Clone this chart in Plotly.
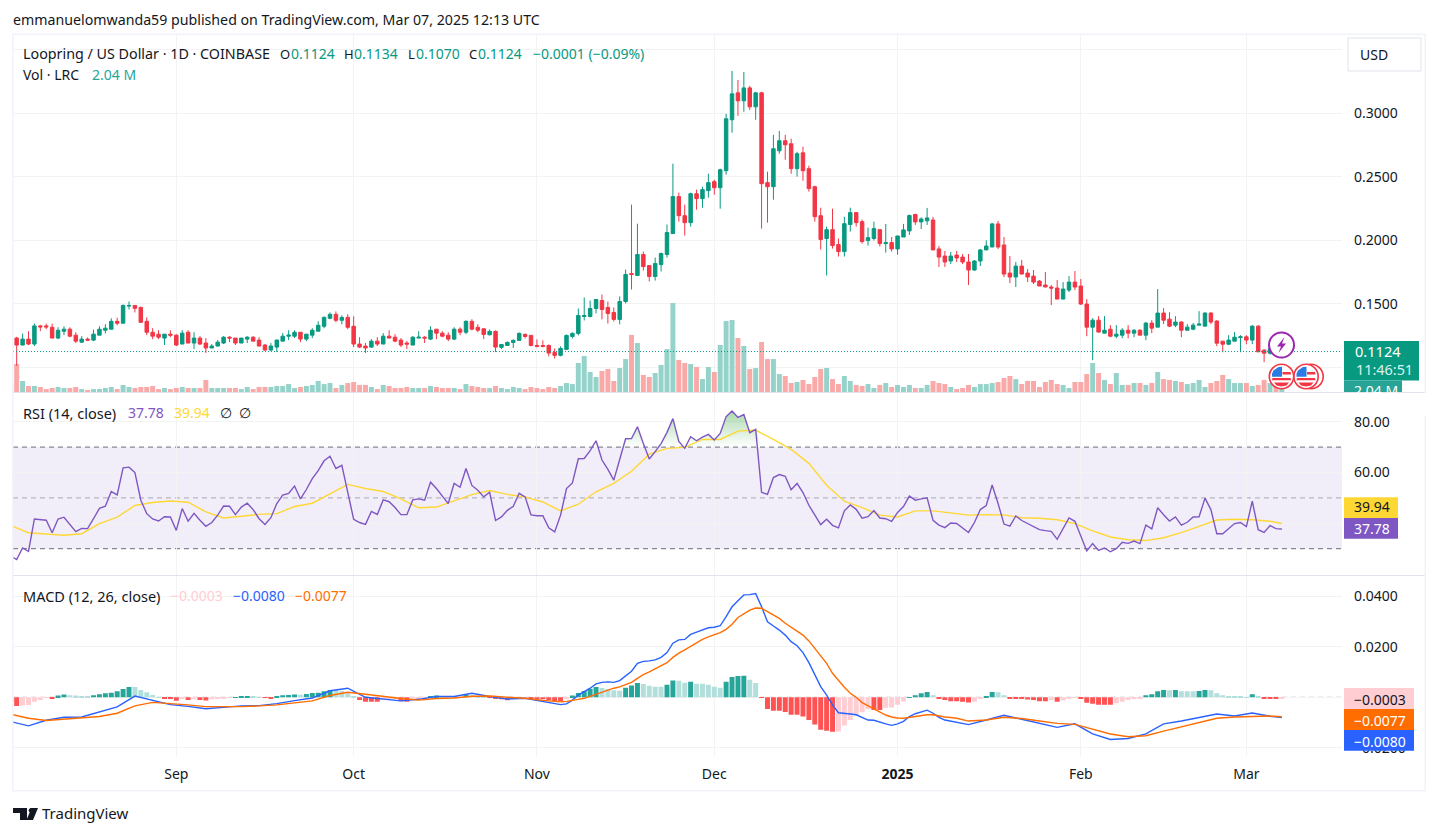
import pandas as pd
import plotly.graph_objects as go

W, H = 1438, 835
FONT = "Noto Sans"
UP, DOWN = "#089981", "#f23645"

start_date = "2024-08-04"
month_ticks = ["2024-09-01", "2024-10-01", "2024-11-01", "2024-12-01", "2025-01-01", "2025-02-01", "2025-03-01"]
month_labels = ["Sep", "Oct", "Nov", "Dec", "<b>2025</b>", "Feb", "Mar"]
price_ticks = [0.10, 0.15, 0.20, 0.25, 0.30, 0.35]
price_labels = ["", "0.1500", "0.2000", "0.2500", "0.3000", ""]
rsi_ticks = [80, 60, 40]
rsi_labels = ["80.00", "60.00", ""]
macd_ticks = [0.04, 0.02, 0.0, -0.02]
macd_labels = ["0.0400", "0.0200", "", "−0.0200"]

opens = [
 .1300,.1230,.1175,.1222,.1183,.1326,.1326,.1315,.1230,.1284,.1300,
 .1253,.1198,.1222,.1214,.1253,.1292,.1300,.1362,.1347,.1482,
 .1487,.1471,.1362,.1276,.1261,.1230,.1261,.1253,.1183,.1276,
 .1191,.1230,.1191,.1152,.1167,.1191,.1237,.1230,.1191,.1222,
 .1237,.1214,.1175,.1136,.1159,.1206,.1245,.1245,.1276,.1222,
 .1253,.1284,.1323,.1386,.1417,.1370,.1393,.1323,.1183,.1167,
 .1159,.1206,.1183,.1245,.1237,.1214,.1191,.1175,.1230,.1237,
 .1222,.1300,.1269,.1253,.1222,.1300,.1276,.1362,.1315,
 .1303,.1256,.1283,.1157,.1172,.1196,.1212,.1259,.1251,.1172,.1172,
 .1172,.1117,.1094,.1141,.1243,.1267,.1400,.1400,.1463,.1526,
 .1471,.1432,.1377,.1518,.1738,.1723,.1888,.1801,.1715,.1809,
 .1888,.2053,.2344,.2194,.2139,.2367,.2328,.2391,.2462,.2414,
 .2548,.2949,.3161,.3098,.3200,.3051,.3161,.2454,.2422,.2705,
 .2784,.2760,.2564,.2689,.2564,.2422,.2194,.2014,.2084,.1966,
 .1911,.2124,.2218,.2147,.1998,.2014,.2084,.1974,.1982,.1932,
 .2026,.2074,.2203,.2145,.2153,.2160,.1932,.1876,.1837,.1884,
 .1868,.1829,.1766,.1837,.1924,.1947,.2129,.1963,.1742,.1711,
 .1797,.1742,.1718,.1679,.1648,.1632,.1624,.1537,.1608,.1671,
 .1640,.1498,.1316,.1371,.1269,.1300,.1245,.1253,.1292,.1269,
 .1292,.1253,.1348,.1316,.1427,.1379,.1332,.1356,.1292,.1300,
 .1332,.1324,.1427,.1364,.1206,.1182,.1206,.1234,.1240,.1214,
 .1324,.1135,.1111,.1145,.1124]
highs = [
 .1320,.1240,.1266,.1284,.1344,.1334,.1344,.1344,.1315,.1323,.1315,
 .1276,.1245,.1235,.1297,.1323,.1339,.1386,.1391,.1495,.1518,
 .1487,.1479,.1393,.1308,.1292,.1261,.1292,.1261,.1292,.1292,
 .1276,.1245,.1230,.1183,.1214,.1245,.1245,.1230,.1230,.1245,
 .1245,.1237,.1183,.1191,.1219,.1269,.1292,.1292,.1276,.1261,
 .1308,.1362,.1401,.1432,.1440,.1409,.1417,.1401,.1237,.1191,
 .1222,.1237,.1269,.1292,.1261,.1230,.1206,.1245,.1284,.1245,
 .1323,.1300,.1284,.1276,.1315,.1315,.1370,.1378,.1339,
 .1309,.1298,.1290,.1180,.1204,.1220,.1275,.1267,.1251,.1220,.1212,
 .1180,.1149,.1165,.1259,.1275,.1463,.1550,.1526,.1534,.1573,
 .1518,.1471,.1558,.1770,.2281,.2131,.1911,.1801,.1864,.1903,
 .2124,.2603,.2375,.2281,.2375,.2399,.2422,.2524,.2477,.2564,
 .2996,.3334,.3263,.3326,.3216,.3169,.3169,.2540,.2831,.2862,
 .2831,.2800,.2697,.2737,.2587,.2430,.2257,.2108,.2249,.2014,
 .2186,.2257,.2218,.2163,.2100,.2147,.2084,.2129,.2026,.2034,
 .2129,.2203,.2210,.2181,.2255,.2184,.1955,.1916,.1908,.1916,
 .1892,.1892,.1845,.1932,.2000,.2137,.2153,.2026,.1876,.1829,
 .1845,.1774,.1766,.1687,.1750,.1648,.1687,.1671,.1718,.1758,
 .1695,.1537,.1387,.1403,.1403,.1332,.1332,.1308,.1332,.1300,
 .1300,.1356,.1371,.1616,.1466,.1434,.1403,.1364,.1340,.1348,
 .1442,.1434,.1434,.1371,.1206,.1253,.1277,.1253,.1253,.1332,
 .1332,.1143,.1150,.1160,.1134]
lows = [
 .1180,.1011,.1175,.1175,.1167,.1284,.1300,.1230,.1222,.1253,.1237,
 .1191,.1191,.1206,.1206,.1253,.1266,.1300,.1331,.1347,.1456,
 .1432,.1354,.1253,.1222,.1222,.1175,.1237,.1167,.1183,.1191,
 .1144,.1175,.1113,.1152,.1167,.1183,.1198,.1175,.1191,.1191,
 .1206,.1167,.1128,.1128,.1120,.1206,.1214,.1230,.1198,.1206,
 .1230,.1284,.1308,.1378,.1354,.1339,.1300,.1159,.1152,.1113,
 .1152,.1167,.1183,.1230,.1198,.1159,.1144,.1175,.1230,.1191,
 .1214,.1222,.1237,.1206,.1214,.1253,.1261,.1292,.1276,
 .1222,.1251,.1120,.1144,.1172,.1152,.1212,.1228,.1165,.1157,.1157,
 .1086,.1070,.1086,.1141,.1228,.1251,.1369,.1393,.1424,.1377,
 .1345,.1361,.1338,.1503,.1613,.1723,.1762,.1676,.1683,.1754,
 .1864,.2053,.2147,.2037,.2108,.2241,.2257,.2336,.2359,.2249,
 .2517,.2847,.2980,.3012,.3027,.2949,.2092,.2139,.2320,.2682,
 .2634,.2524,.2501,.2469,.2383,.2147,.1927,.1723,.1935,.1872,
 .1872,.2069,.2108,.1974,.1959,.1998,.1951,.1903,.1911,.1887,
 .2026,.2042,.2121,.2089,.2121,.1924,.1790,.1790,.1813,.1829,
 .1813,.1648,.1758,.1797,.1924,.1947,.1932,.1711,.1663,.1632,
 .1734,.1671,.1655,.1640,.1632,.1490,.1537,.1537,.1592,.1608,
 .1490,.1245,.1056,.1277,.1269,.1237,.1229,.1229,.1229,.1237,
 .1253,.1213,.1269,.1316,.1340,.1316,.1316,.1237,.1292,.1292,
 .1332,.1324,.1340,.1166,.1119,.1174,.1206,.1119,.1182,.1182,
 .1119,.1040,.1100,.1110,.1070]
closes = [
 .1230,.1175,.1222,.1183,.1326,.1318,.1318,.1230,.1292,.1300,.1245,
 .1206,.1222,.1214,.1261,.1300,.1308,.1362,.1347,.1487,.1487,
 .1464,.1354,.1276,.1245,.1237,.1261,.1253,.1175,.1269,.1191,
 .1230,.1183,.1152,.1167,.1198,.1237,.1230,.1191,.1230,.1237,
 .1206,.1167,.1136,.1167,.1214,.1245,.1253,.1276,.1222,.1261,
 .1292,.1331,.1393,.1417,.1370,.1393,.1315,.1183,.1159,.1152,
 .1206,.1183,.1245,.1230,.1206,.1175,.1183,.1237,.1237,.1230,
 .1292,.1269,.1245,.1222,.1300,.1276,.1362,.1300,.1292,
 .1259,.1283,.1159,.1180,.1196,.1212,.1267,.1243,.1172,.1165,.1165,
 .1112,.1094,.1149,.1251,.1267,.1408,.1408,.1463,.1534,.1455,
 .1424,.1377,.1518,.1731,.1731,.1888,.1793,.1715,.1817,.1896,
 .2061,.2344,.2194,.2139,.2367,.2328,.2399,.2454,.2414,.2556,
 .2957,.3153,.3098,.3200,.3051,.3161,.2446,.2422,.2721,.2784,
 .2752,.2564,.2682,.2548,.2407,.2186,.2006,.2084,.1959,.1911,
 .2131,.2218,.2139,.1990,.2021,.2092,.1974,.1982,.1932,.2034,
 .2082,.2195,.2145,.2168,.2176,.1924,.1868,.1829,.1876,.1861,
 .1829,.1766,.1837,.1924,.1955,.2129,.1947,.1734,.1711,.1797,
 .1734,.1711,.1671,.1640,.1632,.1624,.1537,.1616,.1671,.1632,
 .1498,.1316,.1371,.1277,.1292,.1245,.1261,.1292,.1269,.1292,
 .1253,.1348,.1308,.1427,.1371,.1324,.1356,.1292,.1316,.1332,
 .1340,.1427,.1356,.1190,.1182,.1214,.1237,.1240,.1214,.1324,
 .1122,.1111,.1145,.1125,.1124]
volume_m = [
 4.8,19.0,7.5,4.1,4.1,3.4,2.0,2.7,3.4,2.7,2.7,
 3.4,2.0,1.4,2.0,2.0,2.7,3.4,2.0,4.8,3.4,
 2.7,3.4,3.4,4.1,2.0,2.7,2.0,2.7,3.4,2.7,
 2.7,2.7,8.2,2.7,2.7,2.7,2.7,2.7,2.0,3.4,
 2.0,3.4,3.4,3.4,4.1,4.1,5.4,2.7,3.4,4.1,
 4.8,7.5,5.4,6.1,2.7,4.8,6.1,6.8,4.8,4.8,
 3.4,2.0,4.8,4.1,2.7,2.7,3.4,2.7,2.7,2.7,
 4.1,3.4,2.7,2.7,2.7,2.0,5.4,4.1,3.4,
 2.7,2.7,4.1,2.7,2.0,3.4,2.7,2.0,3.4,2.7,2.0,
 3.4,2.7,4.1,6.1,5.4,19.7,24.5,13.6,10.2,14.3,
 15.6,7.5,16.3,22.4,38.8,33.3,11.6,10.2,12.9,18.4,
 29.2,60.5,21.8,19.7,19.0,17.0,8.8,17.0,13.6,32.0,
 48.3,49.0,36.7,31.3,15.6,16.3,34.0,22.4,22.4,12.2,
 10.9,6.1,6.8,8.2,5.4,10.2,15.6,16.3,8.8,5.4,
 10.9,7.5,4.8,4.1,5.4,2.7,4.8,6.1,3.4,4.8,
 3.4,4.8,2.7,2.7,4.8,7.5,6.1,5.4,3.4,2.0,
 2.7,4.8,3.4,5.4,5.4,6.1,6.8,9.5,10.9,8.8,
 5.4,7.5,7.5,3.4,6.8,8.2,5.4,4.8,2.7,6.8,
 6.8,12.2,19.7,12.9,8.2,5.4,12.9,4.8,4.8,6.1,
 6.1,4.8,6.1,13.6,8.8,8.2,7.5,6.8,5.4,6.1,
 8.2,3.4,6.1,7.5,11.6,8.8,6.1,6.1,6.1,4.1,
 4.8,8.2,6.1,4.5,2.04]
rsi = [
 27.0,25.7,30.3,28.9,41.7,41.6,41.2,36.3,41.7,42.4,39.5,
 36.7,38.0,37.9,41.8,45.9,46.7,52.5,51.2,61.8,62.1,
 60.0,49.1,43.8,41.7,40.9,42.6,42.5,37.2,45.8,40.8,
 43.9,41.2,38.8,40.3,43.2,46.8,46.7,43.4,46.4,47.9,
 45.4,41.8,39.5,42.2,47.8,51.1,51.8,54.7,49.6,53.3,
 57.6,60.7,64.6,66.4,61.6,62.8,52.8,41.6,40.3,39.6,
 44.7,43.5,49.2,48.5,46.2,43.4,43.4,49.2,49.6,49.1,
 56.2,53.7,50.7,47.8,55.7,54.2,61.6,54.9,53.0,
 50.4,52.2,41.1,42.5,45.1,46.7,51.8,50.4,43.3,43.0,43.0,
 38.2,36.6,43.2,53.7,55.9,65.4,65.5,68.6,72.5,64.9,
 61.2,57.0,65.1,73.3,73.4,78.0,71.4,65.3,68.2,71.4,
 75.8,81.2,72.2,69.5,74.1,72.5,73.9,75.0,72.8,75.4,
 82.0,84.2,81.7,82.8,75.7,77.0,52.2,51.4,58.0,59.2,
 58.5,53.2,55.7,52.1,47.1,43.2,39.5,41.6,39.2,38.2,
 44.9,47.2,45.5,42.0,42.6,45.0,42.1,41.8,40.8,44.3,
 46.6,50.7,49.1,49.6,50.0,41.2,39.3,38.3,40.1,39.9,
 38.3,36.4,40.3,45.4,47.0,55.1,47.8,39.7,38.9,42.9,
 41.1,39.9,38.4,37.5,37.1,36.8,33.7,37.9,42.1,40.8,
 35.3,29.1,32.0,29.3,30.3,28.8,30.0,32.5,32.1,33.0,
 32.0,39.3,37.8,46.1,43.4,40.9,42.5,39.3,40.4,42.5,
 42.6,49.9,45.4,35.9,35.9,37.9,39.9,40.3,38.7,48.7,
 37.5,36.4,39.1,37.9,37.78]
rsi_ma = [
 39.1,36.3,35.8,35.3,35.9,39.9,42.4,47.0,48.2,48.8,
 48.3,44.5,42.1,42.9,43.5,43.8,46.6,47.9,51.6,55.3,
 53.7,52.5,49.6,46.1,46.4,48.7,51.3,52.9,51.4,50.4,
 48.4,44.9,47.5,52.4,55.7,60.5,67.2,69.5,69.9,73.0,
 73.0,76.3,76.7,73.0,69.1,63.6,55.0,48.7,46.2,43.2,
 42.5,44.9,44.9,44.1,43.2,43.4,43.3,42.2,42.0,41.4,
 39.9,37.0,34.6,33.5,33.2,34.3,36.3,38.8,41.3,41.6,
 41.4,40.8,39.94]
macd_hist_e4 = [
 -22,-34,-32,-30,-18,-11,-1,-3,7,11,8,
 7,5,5,8,12,16,18,24,33,41,
 41,29,20,9,1,-4,-7,-14,-7,-11,
 -8,-11,-13,-8,-7,-4,-1,1,3,5,
 4,1,-1,-3,3,8,9,11,10,13,
 17,18,24,29,29,26,16,4,-11,-18,
 -18,-18,-9,-7,-4,-16,-18,-11,-7,-3,
 5,7,5,5,3,1,11,8,5,
 5,-1,-5,-8,-12,-5,-3,-1,-4,-8,-8,
 -12,-16,-16,-8,7,17,25,34,41,37,
 33,28,26,38,47,57,53,46,42,42,
 50,66,65,58,62,54,54,50,42,38,
 62,80,84,85,69,57,-1,-46,-53,-53,
 -58,-69,-69,-76,-90,-108,-128,-132,-136,-135,
 -112,-90,-72,-59,-47,-50,-50,-41,-40,-29,
 -17,1,8,16,21,8,-7,-11,-16,-16,
 -18,-21,-18,-4,4,21,20,8,-5,-7,
 -7,-9,-11,-16,-16,-12,-18,-13,-5,-1,
 -4,-22,-26,-29,-29,-29,-24,-18,-11,-7,
 -4,8,12,24,29,28,29,24,24,24,
 25,29,28,16,8,4,4,4,1,12,
 4,-7,-7,-7,-3]
macd_e4 = [
 -96,-113,-91,-79,-78,-58,-38,5,-12,-29,
 -36,-45,-40,-34,-33,-25,-13,-3,26,36,
 0,-8,-14,-8,3,3,16,3,-7,-4,-18,
 -29,-26,-11,9,22,36,53,59,61,59,
 66,84,103,134,142,144,148,158,177,214,
 227,229,249,258,268,275,277,283,319,358,
 382,405,406,410,358,299,282,266,246,220,
 204,177,137,88,42,9,-30,-61,-65,-66,
 -69,-79,-90,-91,-99,-105,-111,-105,-95,-76,
 -65,-57,-51,-63,-79,-90,-95,-99,
 -108,-90,-71,-87,-103,-119,
 -105,-145,-167,-163,-145,-105,-94,-79,-66,-74,
 -62,-75,-80]
signal_e4 = [
 -67,-83,-92,-87,-83,-76,-63,-34,-20,-24,
 -30,-37,-38,-37,-34,-30,-22,-14,7,20,
 12,3,-5,-11,-5,-3,4,5,0,-4,-12,
 -18,-16,-13,-8,-4,4,13,22,30,36,
 41,49,59,75,90,101,112,124,137,158,
 175,188,202,216,229,239,248,256,269,289,
 316,332,345,353,352,339,326,312,293,277,
 262,246,223,194,167,134,95,66,40,16,
 0,-21,-34,-47,-59,-70,-78,-82,-83,-79,
 -74,-70,-69,-69,-74,-78,-80,-83,
 -94,-90,-79,-84,-94,-103,
 -107,-127,-145,-156,-152,-134,-117,-99,-83,-78,
 -75,-74,-77]

n = len(opens)
assert all(len(a) == n for a in (highs, lows, closes, volume_m, rsi, macd_hist_e4))
dates = pd.date_range(start_date, periods=n, freq="D")
ma_idx = list(range(0, n - 1, 3)) + [n - 1]
macd_idx = list(range(0, 93, 3)) + list(range(93, 161)) + list(range(162, n - 1, 3)) + [n - 1]
assert len(ma_idx) == len(rsi_ma), (len(ma_idx), len(rsi_ma))
assert len(macd_idx) == len(macd_e4) == len(signal_e4), (len(macd_idx), len(macd_e4), len(signal_e4))

# pixel helpers for page furniture only (frame, labels, icons)
px = lambda x: x / W
py = lambda y: 1 - y / H
sep1 = pd.Timestamp("2024-09-01")
day_px = 5.912
x_range = [sep1 + pd.Timedelta(days=(13 - 176.3) / day_px), sep1 + pd.Timedelta(days=(1342 - 176.3) / day_px)]

vol_colors = ["#95d3ca" if c >= o else "#f9a9a8" for o, c in zip(opens, closes)]
hist_colors = []
prev = 0
for v in macd_hist_e4:
    if v >= 0:
        hist_colors.append("#26a69a" if v > prev else "#b2dfdb")
    else:
        hist_colors.append("#ff5252" if v <= prev else "#ffcdd2")
    prev = v

fig = go.Figure()
fig.add_bar(x=dates, y=volume_m, marker=dict(color=vol_colors, line_width=0), xaxis="x", yaxis="y", showlegend=False)
fig.add_candlestick(x=dates, open=opens, high=highs, low=lows, close=closes, xaxis="x", yaxis="y2", showlegend=False,
                    whiskerwidth=0,
                    increasing=dict(line=dict(color=UP, width=1), fillcolor=UP),
                    decreasing=dict(line=dict(color=DOWN, width=1), fillcolor=DOWN))

# RSI gradients
fig.add_scatter(x=dates, y=[70] * n, mode="lines", line=dict(width=0), xaxis="x2", yaxis="y3", showlegend=False)
fig.add_scatter(x=dates, y=[max(v, 70) for v in rsi], mode="lines", line=dict(width=0), fill="tonexty",
                fillgradient=dict(type="vertical", colorscale=[[0, "rgba(76,175,80,0.0)"], [1, "rgba(76,175,80,0.5)"]], start=70, stop=85),
                xaxis="x2", yaxis="y3", showlegend=False)
fig.add_scatter(x=dates, y=[30] * n, mode="lines", line=dict(width=0), xaxis="x2", yaxis="y3", showlegend=False)
fig.add_scatter(x=dates, y=[min(v, 30) for v in rsi], mode="lines", line=dict(width=0), fill="tonexty",
                fillcolor="rgba(255,82,82,0.05)", xaxis="x2", yaxis="y3", showlegend=False)
fig.add_scatter(x=dates[ma_idx], y=rsi_ma, mode="lines", line=dict(color="#fdd835", width=1.4), xaxis="x2", yaxis="y3", showlegend=False)
fig.add_scatter(x=dates, y=rsi, mode="lines", line=dict(color="#7e57c2", width=1.4), xaxis="x2", yaxis="y3", showlegend=False)

# MACD
fig.add_bar(x=dates, y=[v * 1e-4 for v in macd_hist_e4], marker=dict(color=hist_colors, line_width=0), xaxis="x3", yaxis="y4", showlegend=False)
fig.add_scatter(x=dates[macd_idx], y=[v * 1e-4 for v in macd_e4], mode="lines", line=dict(color="#2962ff", width=1.4), xaxis="x3", yaxis="y4", showlegend=False)
fig.add_scatter(x=dates[macd_idx], y=[v * 1e-4 for v in signal_e4], mode="lines", line=dict(color="#ff6d00", width=1.4), xaxis="x3", yaxis="y4", showlegend=False)

GRID = "#f3f3f3"
axis_font = dict(family=FONT, size=14, color="#131722")
def xax(domain_y_anchor, show=False):
    return dict(domain=[px(13), px(1342)], range=x_range, type="date", anchor=domain_y_anchor, tickmode="array",
                tickvals=month_ticks, ticktext=month_labels if show else [""] * len(month_ticks),
                showgrid=True, gridcolor=GRID, gridwidth=1, zeroline=False, showline=False,
                ticks="", tickfont=axis_font, rangeslider=dict(visible=False), ticklabelstandoff=8 if show else 0, tickangle=0)
def yax(top, bottom, rng, ticks=None, labels=None, **kw):
    d = dict(domain=[py(bottom), py(top)], range=rng, side="right", anchor="free", position=px(1342), showline=False, zeroline=False,
             tickfont=axis_font, ticks="", ticklabelstandoff=11, showgrid=True, gridcolor=GRID, gridwidth=1)
    if ticks is not None:
        d.update(tickmode="array", tickvals=ticks, ticktext=labels)
    d.update(kw)
    return d

p_scale = 1270.0
price_range = [0.10 - 24.7 / p_scale, 0.30 + 78.3 / p_scale]
rsi_scale = 2.54
rsi_range = [80 - 153.3 / rsi_scale, 80 + 28.7 / rsi_scale]
macd_scale = 2528.0
macd_range = [-58.2 / macd_scale, 121.3 / macd_scale]

fig.update_layout(
    width=W, height=H, margin=dict(l=0, r=0, t=0, b=0), paper_bgcolor="white", plot_bgcolor="white",
    bargap=0.16, boxgap=0.16, showlegend=False, hovermode=False, font=dict(family=FONT, color="#131722"),
    xaxis=xax("y"), xaxis2=xax("y3"), xaxis3=xax("y4", show=True),
    yaxis=yax(35, 392, [0, 357 * 0.68], showticklabels=False, showgrid=False),
    yaxis2=yax(35, 392, price_range, price_ticks, price_labels, overlaying="y"),
    yaxis3=yax(393, 575, rsi_range, rsi_ticks, rsi_labels),
    yaxis4=yax(576, 755.5, macd_range, macd_ticks, macd_labels),
)

shapes = []
def rect(x0, y0, x1, y1, fill, line=None, lw=0, layer="above"):
    shapes.append(dict(type="rect", xref="paper", yref="paper", x0=px(x0), x1=px(x1), y0=py(y0), y1=py(y1),
                       fillcolor=fill, line=dict(color=line or fill, width=lw), layer=layer))
def hl(y, x0=13, x1=1425, color="#e0e3eb", w=1):
    shapes.append(dict(type="line", xref="paper", yref="paper", x0=px(x0), x1=px(x1), y0=py(y), y1=py(y), line=dict(color=color, width=w), layer="above"))
def path(points, fill, close=True, line=None, lw=0):
    d = "M" + " L".join(f"{px(a):.6f},{py(b):.6f}" for a, b in points) + (" Z" if close else "")
    shapes.append(dict(type="path", xref="paper", yref="paper", path=d, fillcolor=fill, line=dict(color=line or fill, width=lw), layer="above"))
def circle(cx, cy, r, fill, line, lw):
    shapes.append(dict(type="circle", xref="paper", yref="paper", x0=px(cx - r), x1=px(cx + r), y0=py(cy - r), y1=py(cy + r),
                       fillcolor=fill, line=dict(color=line, width=lw), layer="above"))

# RSI band and reference lines
shapes.append(dict(type="rect", xref="x2 domain", yref="y3", x0=0, x1=1, y0=30, y1=70, fillcolor="rgba(126,87,194,0.1)", line_width=0, layer="below"))
for lvl, col in ((70, "#6a6d78"), (30, "#6a6d78"), (50, "#a6a9b3")):
    shapes.append(dict(type="line", xref="x2 domain", yref="y3", x0=0, x1=1, y0=lvl, y1=lvl, line=dict(color=col, width=1, dash="5px,4px"), layer="below"))
shapes.append(dict(type="line", xref="x3 domain", yref="y4", x0=0, x1=1, y0=0, y1=0, line=dict(color="#a6a9b3", width=1, dash="5px,4px"), layer="below"))
shapes.append(dict(type="line", xref="x domain", yref="y2", x0=0, x1=1, y0=closes[-1], y1=closes[-1], line=dict(color=UP, width=1, dash="1px,2px"), layer="above"))

# separators / frame
hl(392.5); hl(575.5)
rect(12, 34, 13.5, 791, "#f0f3fa")
rect(12, 33.5, 1426, 35, "#f0f3fa")
rect(12, 790, 1426, 791.5, "#f0f3fa")
rect(1424.5, 34, 1426, 791, "#f0f3fa")

# right-hand labels
rect(1348, 38, 1421, 71, "white", "#e0e3eb", 1)
rect(1344, 341, 1419, 380.5, UP)
rect(1344, 380.5, 1402, 392, "#27a496")
rect(1344, 497.3, 1398, 518, "#fdd835")
rect(1344, 518, 1398, 538.7, "#7e57c2")
rect(1344, 688, 1414, 709, "#ffcdd2")
rect(1344, 709, 1414, 730, "#ff6d00")
rect(1344, 730, 1414, 750.7, "#2962ff")

# event icons
circle(1281.5, 345, 12.5, "white", "#9c27b0", 2)
path([(1284.5, 337), (1277, 346.5), (1281, 346.5), (1278.5, 353), (1286, 343.5), (1282, 343.5)], "#9c27b0")
def flag(cx, cy):
    circle(cx, cy, 12.2, "white", "#f23645", 1.6)
    path([(cx - 9, cy + 1.5), (cx + 9, cy + 1.5), (cx + 9.6, cy + 3.8), (cx - 9.6, cy + 3.8)], "#f23645")
    path([(cx - 7.5, cy + 6), (cx + 7.5, cy + 6), (cx + 5, cy + 9), (cx, cy + 10), (cx - 5, cy + 9)], "#f23645")
    path([(cx + 1, cy - 4.5), (cx + 9, cy - 4.5), (cx + 9.6, cy - 2), (cx + 1, cy - 2)], "#f23645")
    path([(cx - 8, cy - 6), (cx - 3, cy - 9.5), (cx + 0.5, cy - 9.8), (cx + 0.5, cy + 0.3), (cx - 9.6, cy + 0.3), (cx - 9.4, cy - 3)], "#2b7be4")
circle(1311, 376.5, 12.2, "white", "#f23645", 1.6)
flag(1306, 376.5)
flag(1281.5, 376.5)

# TradingView logo
path([(13, 808), (27, 808), (27, 820), (20, 820), (20, 813), (13, 813)], "#131722")
circle(31, 810.4, 1.9, "#131722", "#131722", 1)
path([(38, 808), (33, 820), (26.5, 820), (31.5, 808)], "#131722")

fig.update_layout(shapes=shapes)

anns = []
def t(x, y, text, color="#131722", size=14, anchor="left", bold=False, bg=None, **kw):
    a = dict(xref="paper", yref="paper", x=px(x), y=py(y), text=f"<b>{text}</b>" if bold else text, showarrow=False,
             xanchor=anchor, yanchor="middle", font=dict(family=FONT, size=size, color=color), borderpad=0, borderwidth=0)
    if bg:
        a["bgcolor"] = bg
    a.update(kw)
    anns.append(a)

GREEN_T = "#089981"
t(13, 19, "emmanuelomwanda59 published on TradingView.com, Mar 07, 2025 12:13 UTC", size=14.2)
t(23, 53.5, "Loopring / US Dollar · 1D · COINBASE", size=14.3)
t(279.5, 53.5, "O", size=13)
t(290.5, 53.5, "0.1124", GREEN_T)
t(344, 53.5, "H", size=13)
t(353.5, 53.5, "0.1134", GREEN_T)
t(407.5, 53.5, "L", size=13)
t(415.5, 53.5, "0.1070", GREEN_T)
t(468.5, 53.5, "C", size=13)
t(477.5, 53.5, "0.1124", GREEN_T)
t(532.5, 53.5, "−0.0001 (−0.09%)", GREEN_T)
t(23, 74.5, "Vol · LRC")
t(92, 74.5, "2.04 M", "#26a69a")

t(23, 412.5, "RSI (14, close)", size=14.5)
t(128, 412.5, "37.78", "#7e57c2")
t(174, 412.5, "39.94", "#fdd835")
t(220, 412.5, "∅")
t(239, 412.5, "∅")
t(23, 595.5, "MACD (12, 26, close)", size=14.5)
t(171, 595.5, "−0.0003", "#ffcdd2")
t(233, 595.5, "−0.0080", "#2962ff")
t(295, 595.5, "−0.0077", "#ff6d00")

t(1360, 55, "USD")
t(1355, 351, "0.1124", "white", size=14.6)
t(1355.5, 370, "11:46:51", "#d9f2ee", size=14.4)
t(1354, 391, "2.04 M", "white")
t(1347, 404, " ", bg="white", width=80, height=23, anchor="left")   # hides the lower half of the clipped volume label
t(1354, 507, "39.94", "#131722")
t(1354, 528, "37.78", "white")
t(1354, 699, "−0.0003", "#131722")
t(1354, 720, "−0.0077", "white")
t(1354, 741, "−0.0080", "white")
t(42, 813, "TradingView", "#131722", 15)
fig.update_layout(annotations=anns)

fig.write_html("out.html", config={"displayModeBar": False},
               post_script="document.body.style.margin='0';document.body.style.overflow='hidden';")
